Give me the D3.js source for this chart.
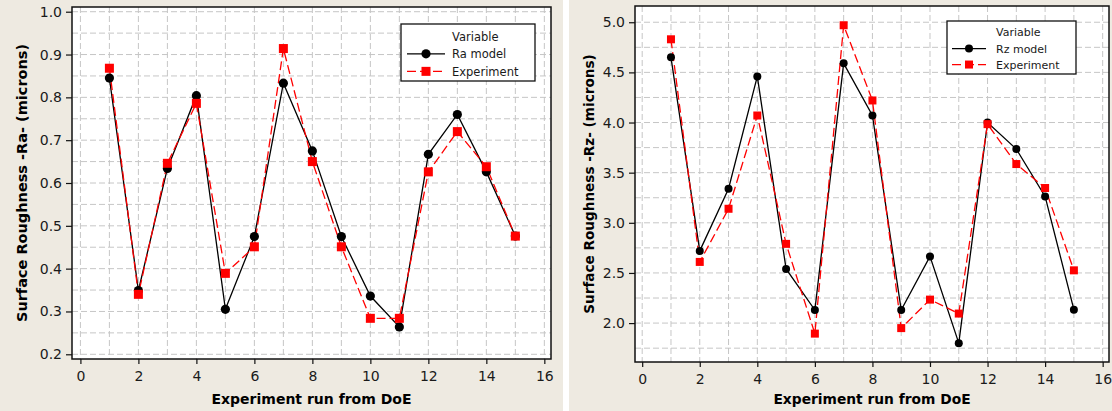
<!DOCTYPE html>
<html>
<head>
<meta charset="utf-8">
<script src="https://cdn.jsdelivr.net/npm/d3@7"></script>
<style>
  body { margin: 0; background: #fff; }
  svg { display: block; font-family: "DejaVu Sans", Verdana, sans-serif; }
</style>
</head>
<body>
<svg id="chart" width="1112" height="411"></svg>
<script>
// run numbers from the DoE
const runs = [1, 2, 3, 4, 5, 6, 7, 8, 9, 10, 11, 12, 13, 14, 15]

// Ra (microns)
const raModel = [0.845, 0.349, 0.634, 0.804, 0.305, 0.475, 0.833, 0.675, 0.475, 0.336, 0.264, 0.667, 0.760, 0.626, 0.476]
const raExperiment = [0.868, 0.340, 0.646, 0.786, 0.389, 0.451, 0.914, 0.650, 0.451, 0.284, 0.284, 0.626, 0.720, 0.638, 0.476]

// Rz (microns)
const rzModel = [4.65, 2.72, 3.34, 4.46, 2.54, 2.13, 4.59, 4.07, 2.13, 2.665, 1.80, 4.00, 3.735, 3.263, 2.134]
const rzExperiment = [4.83, 2.61, 3.14, 4.07, 2.79, 1.895, 4.97, 4.22, 1.95, 2.234, 2.095, 3.984, 3.586, 3.347, 2.526]

// ticks and grid
const xTicks = [0, 2, 4, 6, 8, 10, 12, 14, 16]
const xGrid = [0, 1, 2, 3, 4, 5, 6, 7, 8, 9, 10, 11, 12, 13, 14, 15, 16]
const raTicks = [0.2, 0.3, 0.4, 0.5, 0.6, 0.7, 0.8, 0.9, 1.0]
const raGrid = [0.2, 0.25, 0.3, 0.35, 0.4, 0.45, 0.5, 0.55, 0.6, 0.65, 0.7, 0.75, 0.8, 0.85, 0.9, 0.95, 1.0]
const rzTicks = [2.0, 2.5, 3.0, 3.5, 4.0, 4.5, 5.0]
const rzGrid = [1.75, 2.0, 2.25, 2.5, 2.75, 3.0, 3.25, 3.5, 3.75, 4.0, 4.25, 4.5, 4.75, 5.0]

const bgColor = "#eeeae1"

let svg = d3.select("#chart")

function drawPanel(p) {
    // panel background
    svg.append("rect")
        .attr("x", p.bg[0]).attr("y", 0)
        .attr("width", p.bg[1]).attr("height", 411)
        .attr("fill", bgColor)

    let x = d3.scaleLinear().domain(p.xDomain).range([p.left, p.right])
    let y = d3.scaleLinear().domain(p.yDomain).range([p.bottom, p.top])

    let g = svg.append("g")

    g.append("rect")
        .attr("x", p.left).attr("y", p.top)
        .attr("width", p.right - p.left).attr("height", p.bottom - p.top)
        .attr("fill", "#fff")

    // dashed grid
    g.append("g").selectAll("line")
        .data(xGrid)
        .join("line")
        .attr("x1", d => x(d)).attr("x2", d => x(d))
        .attr("y1", p.top).attr("y2", p.bottom)
        .attr("stroke", "#c6c6c6").attr("stroke-dasharray", "6,3")
    g.append("g").selectAll("line")
        .data(p.yGrid)
        .join("line")
        .attr("x1", p.left).attr("x2", p.right)
        .attr("y1", d => y(d)).attr("y2", d => y(d))
        .attr("stroke", "#c6c6c6").attr("stroke-dasharray", "6,3")

    // axes
    let xAxis = g.append("g")
        .attr("transform", `translate(0, ${p.bottom})`)
        .call(d3.axisBottom(x).tickValues(xTicks).tickFormat(d3.format("d")).tickSize(5).tickPadding(7).tickSizeOuter(0))
    let yAxis = g.append("g")
        .attr("transform", `translate(${p.left}, 0)`)
        .call(d3.axisLeft(y).tickValues(p.yTicks).tickFormat(d3.format(".1f")).tickSize(6).tickPadding(4).tickSizeOuter(0))
    for (let ax of [xAxis, yAxis]) {
        ax.select(".domain").remove()
        ax.selectAll("text").attr("font-size", 14).attr("fill", "#1a1a1a").attr("font-family", "DejaVu Sans, sans-serif")
        ax.selectAll("line").attr("stroke", "#111").attr("stroke-width", 1.2)
    }

    // frame
    g.append("rect")
        .attr("x", p.left).attr("y", p.top)
        .attr("width", p.right - p.left).attr("height", p.bottom - p.top)
        .attr("fill", "none").attr("stroke", "#111").attr("stroke-width", 1.5)

    // series
    let line = d3.line().x((d, i) => x(runs[i])).y(d => y(d))
    g.append("path")
        .datum(p.model)
        .attr("d", line)
        .attr("fill", "none").attr("stroke", "#000").attr("stroke-width", 1.3)
    g.append("path")
        .datum(p.experiment)
        .attr("d", line)
        .attr("fill", "none").attr("stroke", "#ff0000").attr("stroke-width", 1.3)
        .attr("stroke-dasharray", "9,4")

    g.append("g").selectAll("circle")
        .data(p.model)
        .join("circle")
        .attr("cx", (d, i) => x(runs[i])).attr("cy", d => y(d))
        .attr("r", p.r).attr("fill", "#000")
    g.append("g").selectAll("rect")
        .data(p.experiment)
        .join("rect")
        .attr("x", (d, i) => x(runs[i]) - p.sq / 2).attr("y", d => y(d) - p.sq / 2)
        .attr("width", p.sq).attr("height", p.sq).attr("fill", "#ff0000")

    // axis titles
    g.append("text")
        .attr("x", (p.left + p.right) / 2).attr("y", 404)
        .attr("text-anchor", "middle")
        .attr("font-weight", "bold").attr("font-size", p.xTitleSize)
        .text("Experiment run from DoE")
    g.append("text")
        .attr("transform", `translate(${p.yTitleX}, ${(p.top + p.bottom) / 2}) rotate(-90)`)
        .attr("text-anchor", "middle")
        .attr("font-weight", "bold").attr("font-size", p.yTitleSize)
        .text(p.yTitle)

    // legend
    let L = p.legend
    let lg = g.append("g")
    lg.append("rect")
        .attr("x", L.x).attr("y", L.y).attr("width", L.w).attr("height", L.h)
        .attr("fill", "#fff").attr("stroke", "#111").attr("stroke-width", 1.3)
    lg.append("text")
        .attr("x", L.textX).attr("y", L.rows[0])
        .attr("font-size", L.size).attr("fill", "#1a1a1a")
        .text("Variable")
    let items = [
        {name: p.modelName, color: "#000", dash: null, mark: "circle"},
        {name: "Experiment", color: "#ff0000", dash: "9,4", mark: "square"}
    ]
    items.forEach((it, i) => {
        let baseY = L.rows[i + 1]
        let cy = baseY - L.size * 0.36
        lg.append("line")
            .attr("x1", L.lineX[0]).attr("x2", L.lineX[1])
            .attr("y1", cy).attr("y2", cy)
            .attr("stroke", it.color).attr("stroke-width", 1.3)
            .attr("stroke-dasharray", it.dash)
        let mx = (L.lineX[0] + L.lineX[1]) / 2
        if (it.mark === "circle") {
            lg.append("circle").attr("cx", mx).attr("cy", cy).attr("r", p.r).attr("fill", it.color)
        } else {
            lg.append("rect").attr("x", mx - p.sq / 2).attr("y", cy - p.sq / 2)
                .attr("width", p.sq).attr("height", p.sq).attr("fill", it.color)
        }
        lg.append("text")
            .attr("x", L.textX).attr("y", baseY)
            .attr("font-size", L.size).attr("fill", "#1a1a1a")
            .text(it.name)
    })
}

drawPanel({
    bg: [0, 563],
    left: 72, right: 551, top: 7, bottom: 359,
    xDomain: [-0.29, 16.23], yDomain: [0.189, 1.011],
    yTicks: raTicks, yGrid: raGrid,
    model: raModel, experiment: raExperiment, modelName: "Ra model",
    r: 4.6, sq: 9,
    xTitleSize: 14, yTitleSize: 14.5, yTitleX: 27,
    yTitle: "Surface Roughness -Ra- (microns)",
    legend: {x: 401, y: 24, w: 134, h: 57, textX: 452, rows: [40.5, 58, 75.5], lineX: [407, 445], size: 11.5}
})

drawPanel({
    bg: [569, 543],
    left: 635, right: 1109, top: 6, bottom: 362,
    xDomain: [-0.25, 16.22], yDomain: [1.612, 5.162],
    yTicks: rzTicks, yGrid: rzGrid,
    model: rzModel, experiment: rzExperiment, modelName: "Rz model",
    r: 4, sq: 8,
    xTitleSize: 13.8, yTitleSize: 13.6, yTitleX: 594,
    yTitle: "Surface Roughness -Rz- (microns)",
    legend: {x: 947, y: 21, w: 129, h: 53, textX: 996, rows: [36, 52.5, 68.5], lineX: [952, 986], size: 11}
})
</script>
</body>
</html>
